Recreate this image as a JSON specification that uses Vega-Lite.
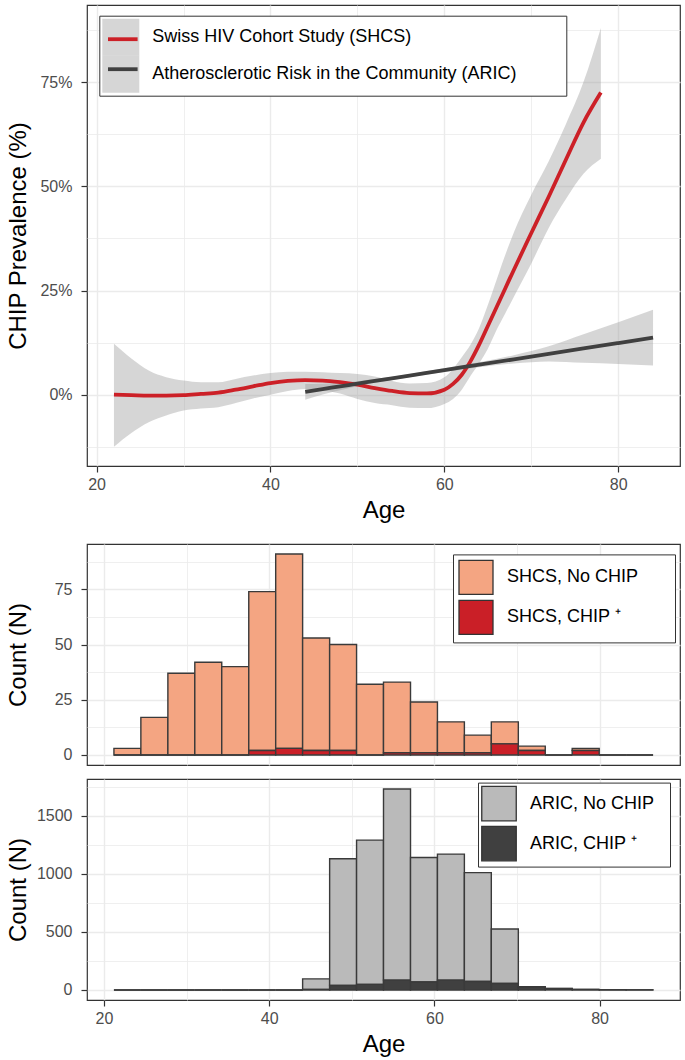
{
  "$schema": "https://vega.github.io/schema/vega-lite/v6.json",
  "padding": {"left": 5, "top": 4, "right": 0, "bottom": 0},
  "spacing": 20,
  "background": "white",
  "datasets": {
    "smooth": [
      {"study": "Swiss HIV Cohort Study (SHCS)", "age": 22, "est": 0.000, "lo": -0.125, "hi": 0.122},
      {"study": "Swiss HIV Cohort Study (SHCS)", "age": 24, "est": -0.001, "lo": -0.092, "hi": 0.087},
      {"study": "Swiss HIV Cohort Study (SHCS)", "age": 26, "est": -0.002, "lo": -0.066, "hi": 0.058},
      {"study": "Swiss HIV Cohort Study (SHCS)", "age": 28, "est": -0.002, "lo": -0.050, "hi": 0.042},
      {"study": "Swiss HIV Cohort Study (SHCS)", "age": 30, "est": -0.001, "lo": -0.038, "hi": 0.034},
      {"study": "Swiss HIV Cohort Study (SHCS)", "age": 32, "est": 0.002, "lo": -0.033, "hi": 0.030},
      {"study": "Swiss HIV Cohort Study (SHCS)", "age": 34, "est": 0.005, "lo": -0.030, "hi": 0.030},
      {"study": "Swiss HIV Cohort Study (SHCS)", "age": 36, "est": 0.012, "lo": -0.020, "hi": 0.038},
      {"study": "Swiss HIV Cohort Study (SHCS)", "age": 38, "est": 0.020, "lo": -0.009, "hi": 0.046},
      {"study": "Swiss HIV Cohort Study (SHCS)", "age": 40, "est": 0.028, "lo": 0.000, "hi": 0.052},
      {"study": "Swiss HIV Cohort Study (SHCS)", "age": 42, "est": 0.033, "lo": 0.009, "hi": 0.055},
      {"study": "Swiss HIV Cohort Study (SHCS)", "age": 44, "est": 0.035, "lo": 0.014, "hi": 0.055},
      {"study": "Swiss HIV Cohort Study (SHCS)", "age": 46, "est": 0.034, "lo": 0.010, "hi": 0.054},
      {"study": "Swiss HIV Cohort Study (SHCS)", "age": 48, "est": 0.030, "lo": 0.003, "hi": 0.052},
      {"study": "Swiss HIV Cohort Study (SHCS)", "age": 50, "est": 0.024, "lo": -0.010, "hi": 0.050},
      {"study": "Swiss HIV Cohort Study (SHCS)", "age": 52, "est": 0.016, "lo": -0.020, "hi": 0.044},
      {"study": "Swiss HIV Cohort Study (SHCS)", "age": 54, "est": 0.009, "lo": -0.025, "hi": 0.033},
      {"study": "Swiss HIV Cohort Study (SHCS)", "age": 56, "est": 0.004, "lo": -0.031, "hi": 0.027},
      {"study": "Swiss HIV Cohort Study (SHCS)", "age": 58, "est": 0.003, "lo": -0.032, "hi": 0.028},
      {"study": "Swiss HIV Cohort Study (SHCS)", "age": 60, "est": 0.012, "lo": -0.022, "hi": 0.042},
      {"study": "Swiss HIV Cohort Study (SHCS)", "age": 61, "est": 0.026, "lo": -0.010, "hi": 0.062},
      {"study": "Swiss HIV Cohort Study (SHCS)", "age": 62, "est": 0.048, "lo": 0.012, "hi": 0.090},
      {"study": "Swiss HIV Cohort Study (SHCS)", "age": 63, "est": 0.080, "lo": 0.045, "hi": 0.120},
      {"study": "Swiss HIV Cohort Study (SHCS)", "age": 64, "est": 0.120, "lo": 0.075, "hi": 0.160},
      {"study": "Swiss HIV Cohort Study (SHCS)", "age": 65, "est": 0.165, "lo": 0.110, "hi": 0.215},
      {"study": "Swiss HIV Cohort Study (SHCS)", "age": 66, "est": 0.210, "lo": 0.155, "hi": 0.275},
      {"study": "Swiss HIV Cohort Study (SHCS)", "age": 67, "est": 0.255, "lo": 0.195, "hi": 0.335},
      {"study": "Swiss HIV Cohort Study (SHCS)", "age": 68, "est": 0.300, "lo": 0.235, "hi": 0.390},
      {"study": "Swiss HIV Cohort Study (SHCS)", "age": 70, "est": 0.388, "lo": 0.315, "hi": 0.480},
      {"study": "Swiss HIV Cohort Study (SHCS)", "age": 72, "est": 0.475, "lo": 0.400, "hi": 0.560},
      {"study": "Swiss HIV Cohort Study (SHCS)", "age": 74, "est": 0.565, "lo": 0.470, "hi": 0.650},
      {"study": "Swiss HIV Cohort Study (SHCS)", "age": 76, "est": 0.653, "lo": 0.530, "hi": 0.750},
      {"study": "Swiss HIV Cohort Study (SHCS)", "age": 78, "est": 0.725, "lo": 0.566, "hi": 0.880},
      {"study": "Atherosclerotic Risk in the Community (ARIC)", "age": 44, "est": 0.007, "lo": -0.012, "hi": 0.026},
      {"study": "Atherosclerotic Risk in the Community (ARIC)", "age": 46, "est": 0.0135, "lo": 0.0005, "hi": 0.0265},
      {"study": "Atherosclerotic Risk in the Community (ARIC)", "age": 48, "est": 0.020, "lo": 0.011, "hi": 0.029},
      {"study": "Atherosclerotic Risk in the Community (ARIC)", "age": 50, "est": 0.0265, "lo": 0.0205, "hi": 0.0325},
      {"study": "Atherosclerotic Risk in the Community (ARIC)", "age": 52, "est": 0.033, "lo": 0.0285, "hi": 0.0375},
      {"study": "Atherosclerotic Risk in the Community (ARIC)", "age": 56, "est": 0.046, "lo": 0.042, "hi": 0.050},
      {"study": "Atherosclerotic Risk in the Community (ARIC)", "age": 60, "est": 0.059, "lo": 0.0545, "hi": 0.0635},
      {"study": "Atherosclerotic Risk in the Community (ARIC)", "age": 64, "est": 0.072, "lo": 0.066, "hi": 0.078},
      {"study": "Atherosclerotic Risk in the Community (ARIC)", "age": 68, "est": 0.085, "lo": 0.075, "hi": 0.095},
      {"study": "Atherosclerotic Risk in the Community (ARIC)", "age": 72, "est": 0.098, "lo": 0.080, "hi": 0.116},
      {"study": "Atherosclerotic Risk in the Community (ARIC)", "age": 76, "est": 0.111, "lo": 0.077, "hi": 0.145},
      {"study": "Atherosclerotic Risk in the Community (ARIC)", "age": 80, "est": 0.124, "lo": 0.074, "hi": 0.174},
      {"study": "Atherosclerotic Risk in the Community (ARIC)", "age": 84, "est": 0.137, "lo": 0.070, "hi": 0.204}
    ],
    "shcs": [
      {"start": 21.21, "end": 24.47, "group": "SHCS, No CHIP", "n": 3}, {"start": 21.21, "end": 24.47, "group": "SHCS, CHIP ⁺", "n": 0},
      {"start": 24.47, "end": 27.74, "group": "SHCS, No CHIP", "n": 17}, {"start": 24.47, "end": 27.74, "group": "SHCS, CHIP ⁺", "n": 0},
      {"start": 27.74, "end": 31.00, "group": "SHCS, No CHIP", "n": 37}, {"start": 27.74, "end": 31.00, "group": "SHCS, CHIP ⁺", "n": 0},
      {"start": 31.00, "end": 34.26, "group": "SHCS, No CHIP", "n": 42}, {"start": 31.00, "end": 34.26, "group": "SHCS, CHIP ⁺", "n": 0},
      {"start": 34.26, "end": 37.53, "group": "SHCS, No CHIP", "n": 40}, {"start": 34.26, "end": 37.53, "group": "SHCS, CHIP ⁺", "n": 0},
      {"start": 37.53, "end": 40.79, "group": "SHCS, No CHIP", "n": 72}, {"start": 37.53, "end": 40.79, "group": "SHCS, CHIP ⁺", "n": 2},
      {"start": 40.79, "end": 44.05, "group": "SHCS, No CHIP", "n": 88}, {"start": 40.79, "end": 44.05, "group": "SHCS, CHIP ⁺", "n": 3},
      {"start": 44.05, "end": 47.32, "group": "SHCS, No CHIP", "n": 51}, {"start": 44.05, "end": 47.32, "group": "SHCS, CHIP ⁺", "n": 2},
      {"start": 47.32, "end": 50.58, "group": "SHCS, No CHIP", "n": 48}, {"start": 47.32, "end": 50.58, "group": "SHCS, CHIP ⁺", "n": 2},
      {"start": 50.58, "end": 53.84, "group": "SHCS, No CHIP", "n": 32}, {"start": 50.58, "end": 53.84, "group": "SHCS, CHIP ⁺", "n": 0},
      {"start": 53.84, "end": 57.11, "group": "SHCS, No CHIP", "n": 32}, {"start": 53.84, "end": 57.11, "group": "SHCS, CHIP ⁺", "n": 1},
      {"start": 57.11, "end": 60.37, "group": "SHCS, No CHIP", "n": 23}, {"start": 57.11, "end": 60.37, "group": "SHCS, CHIP ⁺", "n": 1},
      {"start": 60.37, "end": 63.63, "group": "SHCS, No CHIP", "n": 14}, {"start": 60.37, "end": 63.63, "group": "SHCS, CHIP ⁺", "n": 1},
      {"start": 63.63, "end": 66.89, "group": "SHCS, No CHIP", "n": 8}, {"start": 63.63, "end": 66.89, "group": "SHCS, CHIP ⁺", "n": 1},
      {"start": 66.89, "end": 70.16, "group": "SHCS, No CHIP", "n": 10}, {"start": 66.89, "end": 70.16, "group": "SHCS, CHIP ⁺", "n": 5},
      {"start": 70.16, "end": 73.42, "group": "SHCS, No CHIP", "n": 2}, {"start": 70.16, "end": 73.42, "group": "SHCS, CHIP ⁺", "n": 2},
      {"start": 73.42, "end": 76.68, "group": "SHCS, No CHIP", "n": 0}, {"start": 73.42, "end": 76.68, "group": "SHCS, CHIP ⁺", "n": 0},
      {"start": 76.68, "end": 79.95, "group": "SHCS, No CHIP", "n": 1}, {"start": 76.68, "end": 79.95, "group": "SHCS, CHIP ⁺", "n": 2},
      {"start": 79.95, "end": 83.21, "group": "SHCS, No CHIP", "n": 0}, {"start": 79.95, "end": 83.21, "group": "SHCS, CHIP ⁺", "n": 0},
      {"start": 83.21, "end": 86.47, "group": "SHCS, No CHIP", "n": 0}, {"start": 83.21, "end": 86.47, "group": "SHCS, CHIP ⁺", "n": 0}
    ],
    "aric": [
      {"start": 21.21, "end": 24.47, "group": "ARIC, No CHIP", "n": 0}, {"start": 21.21, "end": 24.47, "group": "ARIC, CHIP ⁺", "n": 0},
      {"start": 24.47, "end": 27.74, "group": "ARIC, No CHIP", "n": 0}, {"start": 24.47, "end": 27.74, "group": "ARIC, CHIP ⁺", "n": 0},
      {"start": 27.74, "end": 31.00, "group": "ARIC, No CHIP", "n": 0}, {"start": 27.74, "end": 31.00, "group": "ARIC, CHIP ⁺", "n": 0},
      {"start": 31.00, "end": 34.26, "group": "ARIC, No CHIP", "n": 0}, {"start": 31.00, "end": 34.26, "group": "ARIC, CHIP ⁺", "n": 0},
      {"start": 34.26, "end": 37.53, "group": "ARIC, No CHIP", "n": 0}, {"start": 34.26, "end": 37.53, "group": "ARIC, CHIP ⁺", "n": 0},
      {"start": 37.53, "end": 40.79, "group": "ARIC, No CHIP", "n": 0}, {"start": 37.53, "end": 40.79, "group": "ARIC, CHIP ⁺", "n": 0},
      {"start": 40.79, "end": 44.05, "group": "ARIC, No CHIP", "n": 0}, {"start": 40.79, "end": 44.05, "group": "ARIC, CHIP ⁺", "n": 0},
      {"start": 44.05, "end": 47.32, "group": "ARIC, No CHIP", "n": 91}, {"start": 44.05, "end": 47.32, "group": "ARIC, CHIP ⁺", "n": 4},
      {"start": 47.32, "end": 50.58, "group": "ARIC, No CHIP", "n": 1092}, {"start": 47.32, "end": 50.58, "group": "ARIC, CHIP ⁺", "n": 38},
      {"start": 50.58, "end": 53.84, "group": "ARIC, No CHIP", "n": 1242}, {"start": 50.58, "end": 53.84, "group": "ARIC, CHIP ⁺", "n": 48},
      {"start": 53.84, "end": 57.11, "group": "ARIC, No CHIP", "n": 1645}, {"start": 53.84, "end": 57.11, "group": "ARIC, CHIP ⁺", "n": 85},
      {"start": 57.11, "end": 60.37, "group": "ARIC, No CHIP", "n": 1072}, {"start": 57.11, "end": 60.37, "group": "ARIC, CHIP ⁺", "n": 68},
      {"start": 60.37, "end": 63.63, "group": "ARIC, No CHIP", "n": 1085}, {"start": 60.37, "end": 63.63, "group": "ARIC, CHIP ⁺", "n": 85},
      {"start": 63.63, "end": 66.89, "group": "ARIC, No CHIP", "n": 937}, {"start": 63.63, "end": 66.89, "group": "ARIC, CHIP ⁺", "n": 73},
      {"start": 66.89, "end": 70.16, "group": "ARIC, No CHIP", "n": 470}, {"start": 66.89, "end": 70.16, "group": "ARIC, CHIP ⁺", "n": 55},
      {"start": 70.16, "end": 73.42, "group": "ARIC, No CHIP", "n": 2}, {"start": 70.16, "end": 73.42, "group": "ARIC, CHIP ⁺", "n": 26},
      {"start": 73.42, "end": 76.68, "group": "ARIC, No CHIP", "n": 1}, {"start": 73.42, "end": 76.68, "group": "ARIC, CHIP ⁺", "n": 12},
      {"start": 76.68, "end": 79.95, "group": "ARIC, No CHIP", "n": 0}, {"start": 76.68, "end": 79.95, "group": "ARIC, CHIP ⁺", "n": 5},
      {"start": 79.95, "end": 83.21, "group": "ARIC, No CHIP", "n": 0}, {"start": 79.95, "end": 83.21, "group": "ARIC, CHIP ⁺", "n": 2},
      {"start": 83.21, "end": 86.47, "group": "ARIC, No CHIP", "n": 0}, {"start": 83.21, "end": 86.47, "group": "ARIC, CHIP ⁺", "n": 1}
    ]
  },
  "resolve": {"scale": {"x": "independent", "y": "independent", "fill": "independent", "stroke": "independent"}, "legend": {"fill": "independent", "stroke": "independent"}},
  "vconcat": [
    {
      "width": 593,
      "height": 461,
      "data": {"name": "smooth"},
      "layer": [
        {
          "mark": {"type": "area", "opacity": 0.4, "interpolate": "monotone"},
          "encoding": {
            "x": {"field": "age", "type": "quantitative", "title": "Age",
              "scale": {"domain": [18.9, 87.1], "nice": false, "zero": false},
              "axis": {"values": [20, 30, 40, 50, 60, 70, 80],
                "labelExpr": "datum.value % 20 == 0 ? datum.label : ''",
                "tickColor": {"condition": {"test": "datum.value % 20 != 0", "value": "transparent"}, "value": "#333333"},
                "gridWidth": {"condition": {"test": "datum.value % 20 != 0", "value": 0.8}, "value": 1.4}}},
            "y": {"field": "lo", "type": "quantitative", "title": "CHIP Prevalence (%)",
              "scale": {"domain": [-0.171, 0.935], "nice": false, "zero": false},
              "axis": {"values": [-0.125, 0, 0.125, 0.25, 0.375, 0.5, 0.625, 0.75, 0.875], "format": ".0%",
                "labelExpr": "abs(datum.value*4 - round(datum.value*4)) > 0.01 ? '' : datum.label",
                "tickColor": {"condition": {"test": "abs(datum.value*4 - round(datum.value*4)) > 0.01", "value": "transparent"}, "value": "#333333"},
                "gridWidth": {"condition": {"test": "abs(datum.value*4 - round(datum.value*4)) > 0.01", "value": 0.8}, "value": 1.4}}},
            "y2": {"field": "hi"},
            "fill": {"field": "study", "type": "nominal",
              "scale": {"domain": ["Atherosclerotic Risk in the Community (ARIC)", "Swiss HIV Cohort Study (SHCS)"], "range": ["#999999", "#999999"]},
              "legend": {"orient": "none", "legendX": 12.3, "legendY": 10.7, "title": " ", "titleOrient": "right", "titlePadding": 47, "titleFontSize": 2,
                "values": ["Swiss HIV Cohort Study (SHCS)", "Atherosclerotic Risk in the Community (ARIC)"],
                "symbolType": "square", "symbolSize": 1369, "labelLimit": 0,
                "symbolStrokeWidth": 0, "symbolOpacity": 0.4, "labelFontSize": 18, "labelColor": "black", "labelOffset": 13,
                "padding": 3, "rowPadding": 0, "strokeColor": "#333333", "fillColor": "white", "zindex": 1}}
          }
        },
        {
          "mark": {"type": "line", "strokeWidth": 3.8, "interpolate": "monotone"},
          "encoding": {
            "x": {"field": "age", "type": "quantitative"},
            "y": {"field": "est", "type": "quantitative"},
            "stroke": {"field": "study", "type": "nominal",
              "scale": {"domain": ["Swiss HIV Cohort Study (SHCS)", "Atherosclerotic Risk in the Community (ARIC)"], "range": ["#cc2027", "#404040"]},
              "legend": {"orient": "none", "legendX": 12.3, "legendY": 10.7, "title": null, "symbolType": "M-0.8,0H0.8", "symbolSize": 1369,
                "symbolStrokeWidth": 3.8, "labelFontSize": 18, "labelOffset": 13,
                "padding": 3, "rowPadding": 0, "zindex": 2,
                "labelExpr": "''"}}
          }
        }
      ]
    },
    {
      "spacing": 12,
      "resolve": {"scale": {"x": "independent", "y": "independent", "fill": "independent"}, "legend": {"fill": "independent"}},
      "vconcat": [
        {
          "width": 593,
          "height": 221,
          "data": {"name": "shcs"},
          "transform": [{"stack": "n", "groupby": ["start"], "sort": [{"field": "group", "order": "ascending"}], "as": ["y0", "y1"]}],
          "mark": {"type": "bar", "stroke": "#3a3a3a", "strokeWidth": 1.4},
          "encoding": {
            "x": {"field": "start", "type": "quantitative", "title": null,
              "scale": {"domain": [17.95, 89.73], "nice": false, "zero": false},
              "axis": {"values": [20, 30, 40, 50, 60, 70, 80], "labels": false, "ticks": false,
                "gridWidth": {"condition": {"test": "datum.value % 20 != 0", "value": 0.8}, "value": 1.4}}},
            "x2": {"field": "end"},
            "y": {"field": "y0", "type": "quantitative", "title": "Count (N)",
              "scale": {"domain": [-4.55, 95.55], "nice": false, "zero": false},
              "axis": {"values": [0, 12.5, 25, 37.5, 50, 62.5, 75, 87.5],
                "labelExpr": "datum.value % 25 != 0 ? '' : datum.label",
                "tickColor": {"condition": {"test": "datum.value % 25 != 0", "value": "transparent"}, "value": "#333333"},
                "gridWidth": {"condition": {"test": "datum.value % 25 != 0", "value": 0.8}, "value": 1.4}}},
            "y2": {"field": "y1"},
            "fill": {"field": "group", "type": "nominal",
              "scale": {"domain": ["SHCS, No CHIP", "SHCS, CHIP ⁺"], "range": ["#F4A582", "#CA1F27"]},
              "legend": {"orient": "none", "legendX": 366, "legendY": 10.4, "title": " ", "titleOrient": "right", "titlePadding": 32, "titleFontSize": 2,
                "symbolType": "square", "symbolSize": 1156,
                "symbolStrokeColor": "#333333", "symbolStrokeWidth": 1.3, "labelFontSize": 18, "labelColor": "black", "labelOffset": 13,
                "padding": 5, "rowPadding": 0, "strokeColor": "#333333", "fillColor": "white", "labelLimit": 0}}
          }
        },
        {
          "width": 593,
          "height": 221,
          "data": {"name": "aric"},
          "transform": [{"stack": "n", "groupby": ["start"], "sort": [{"field": "group", "order": "ascending"}], "as": ["y0", "y1"]}],
          "mark": {"type": "bar", "stroke": "#3a3a3a", "strokeWidth": 1.4},
          "encoding": {
            "x": {"field": "start", "type": "quantitative", "title": "Age",
              "scale": {"domain": [17.95, 89.73], "nice": false, "zero": false},
              "axis": {"values": [20, 30, 40, 50, 60, 70, 80],
                "labelExpr": "datum.value % 20 == 0 ? datum.label : ''",
                "tickColor": {"condition": {"test": "datum.value % 20 != 0", "value": "transparent"}, "value": "#333333"},
                "gridWidth": {"condition": {"test": "datum.value % 20 != 0", "value": 0.8}, "value": 1.4}}},
            "x2": {"field": "end"},
            "y": {"field": "y0", "type": "quantitative", "title": "Count (N)",
              "scale": {"domain": [-86.5, 1816.5], "nice": false, "zero": false},
              "axis": {"values": [0, 250, 500, 750, 1000, 1250, 1500, 1750],
                "labelExpr": "datum.value % 500 != 0 ? '' : datum.label",
                "format": "d",
                "tickColor": {"condition": {"test": "datum.value % 500 != 0", "value": "transparent"}, "value": "#333333"},
                "gridWidth": {"condition": {"test": "datum.value % 500 != 0", "value": 0.8}, "value": 1.4}}},
            "y2": {"field": "y1"},
            "fill": {"field": "group", "type": "nominal",
              "scale": {"domain": ["ARIC, No CHIP", "ARIC, CHIP ⁺"], "range": ["#BABABA", "#404040"]},
              "legend": {"orient": "none", "legendX": 391, "legendY": 3.6, "title": " ", "titleOrient": "right", "titlePadding": 13, "titleFontSize": 2,
                "symbolType": "square", "symbolSize": 1190,
                "symbolStrokeColor": "#333333", "symbolStrokeWidth": 1.3, "labelFontSize": 18, "labelColor": "black", "labelOffset": 13,
                "padding": 3, "rowPadding": 0, "strokeColor": "#333333", "fillColor": "white", "labelLimit": 0}}
          }
        }
      ]
    }
  ],
  "config": {
    "font": "Liberation Sans",
    "view": {"stroke": "#333333", "strokeWidth": 1.2},
    "axis": {
      "domain": false,
      "labelFont": "Liberation Sans",
      "titleFont": "Liberation Sans",
      "labelFontSize": 16,
      "labelColor": "#4d4d4d",
      "tickSize": 6,
      "tickWidth": 1.2,
      "gridColor": "#ebebeb",
      "titleFontSize": 24,
      "titleFontWeight": "normal",
      "titleColor": "black"
    },
    "axisX": {"labelPadding": 4, "titlePadding": 6},
    "axisY": {"labelPadding": 9, "titleX": -62, "titleBaseline": "alphabetic"},
    "legend": {"labelFont": "Liberation Sans"}
  }
}
